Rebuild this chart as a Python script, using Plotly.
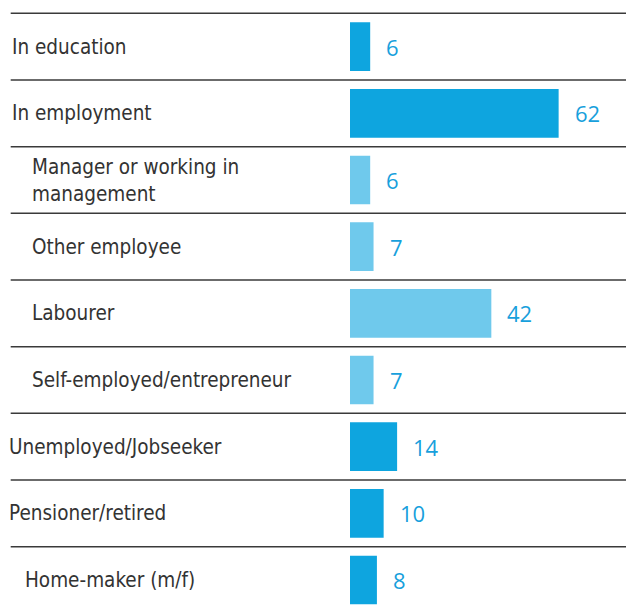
import plotly.graph_objects as go

labels = ["In education", "In employment", "Manager or working in<br>management",
          "Other employee", "Labourer", "Self-employed/entrepreneur",
          "Unemployed/Jobseeker", "Pensioner/retired", "Home-maker (m/f)"]
values = [6, 62, 6, 7, 42, 7, 14, 10, 8]
is_sub = [False, False, True, True, True, True, False, False, False]
indent = [2, 2, 21.5, 21.5, 21.5, 21.5, -1, -1, 14.5]

dark_blue = '#0ea5df'
light_blue = '#6fc9ec'
rows = list(range(len(labels)))
W, H = 626, 598  # page adds an 8px body margin

fig = go.Figure()
fig.add_trace(go.Bar(x=values, y=rows, orientation='h', width=0.73,
                     marker_color=[light_blue if s else dark_blue for s in is_sub],
                     marker_line_width=0, hoverinfo='skip'))

# category labels on the left
for i, lab in enumerate(labels):
    fig.add_annotation(x=indent[i] / W, xref='paper', y=i, yref='y', text=lab,
                       showarrow=False, xanchor='left', yanchor='middle', align='left',
                       font=dict(family='DejaVu Sans Condensed, DejaVu Sans', size=20.5, color='#333333'))

# value labels to the right of the bars
for i, v in enumerate(values):
    fig.add_annotation(x=v, y=i, text=str(v), showarrow=False, xanchor='left', yanchor='middle',
                       xshift=14, font=dict(family='Open Sans', size=22, color='#17a0dc'))

# separators between rows
for i in rows:
    fig.add_shape(type='line', xref='paper', yref='y', x0=2.7 / W, x1=1,
                  y0=i - 0.5, y1=i - 0.5, line=dict(color='#3a3a3a', width=1.5))

fig.update_layout(width=W, height=H, autosize=False, margin=dict(t=0, b=0, l=0, r=0),
                  plot_bgcolor='white', paper_bgcolor='white', showlegend=False,
                  xaxis=dict(domain=[342 / W, 1], range=[0, 84.4], visible=False, fixedrange=True),
                  yaxis=dict(range=[8.39, -0.58], visible=False, fixedrange=True))

fig.write_html("out.html")
